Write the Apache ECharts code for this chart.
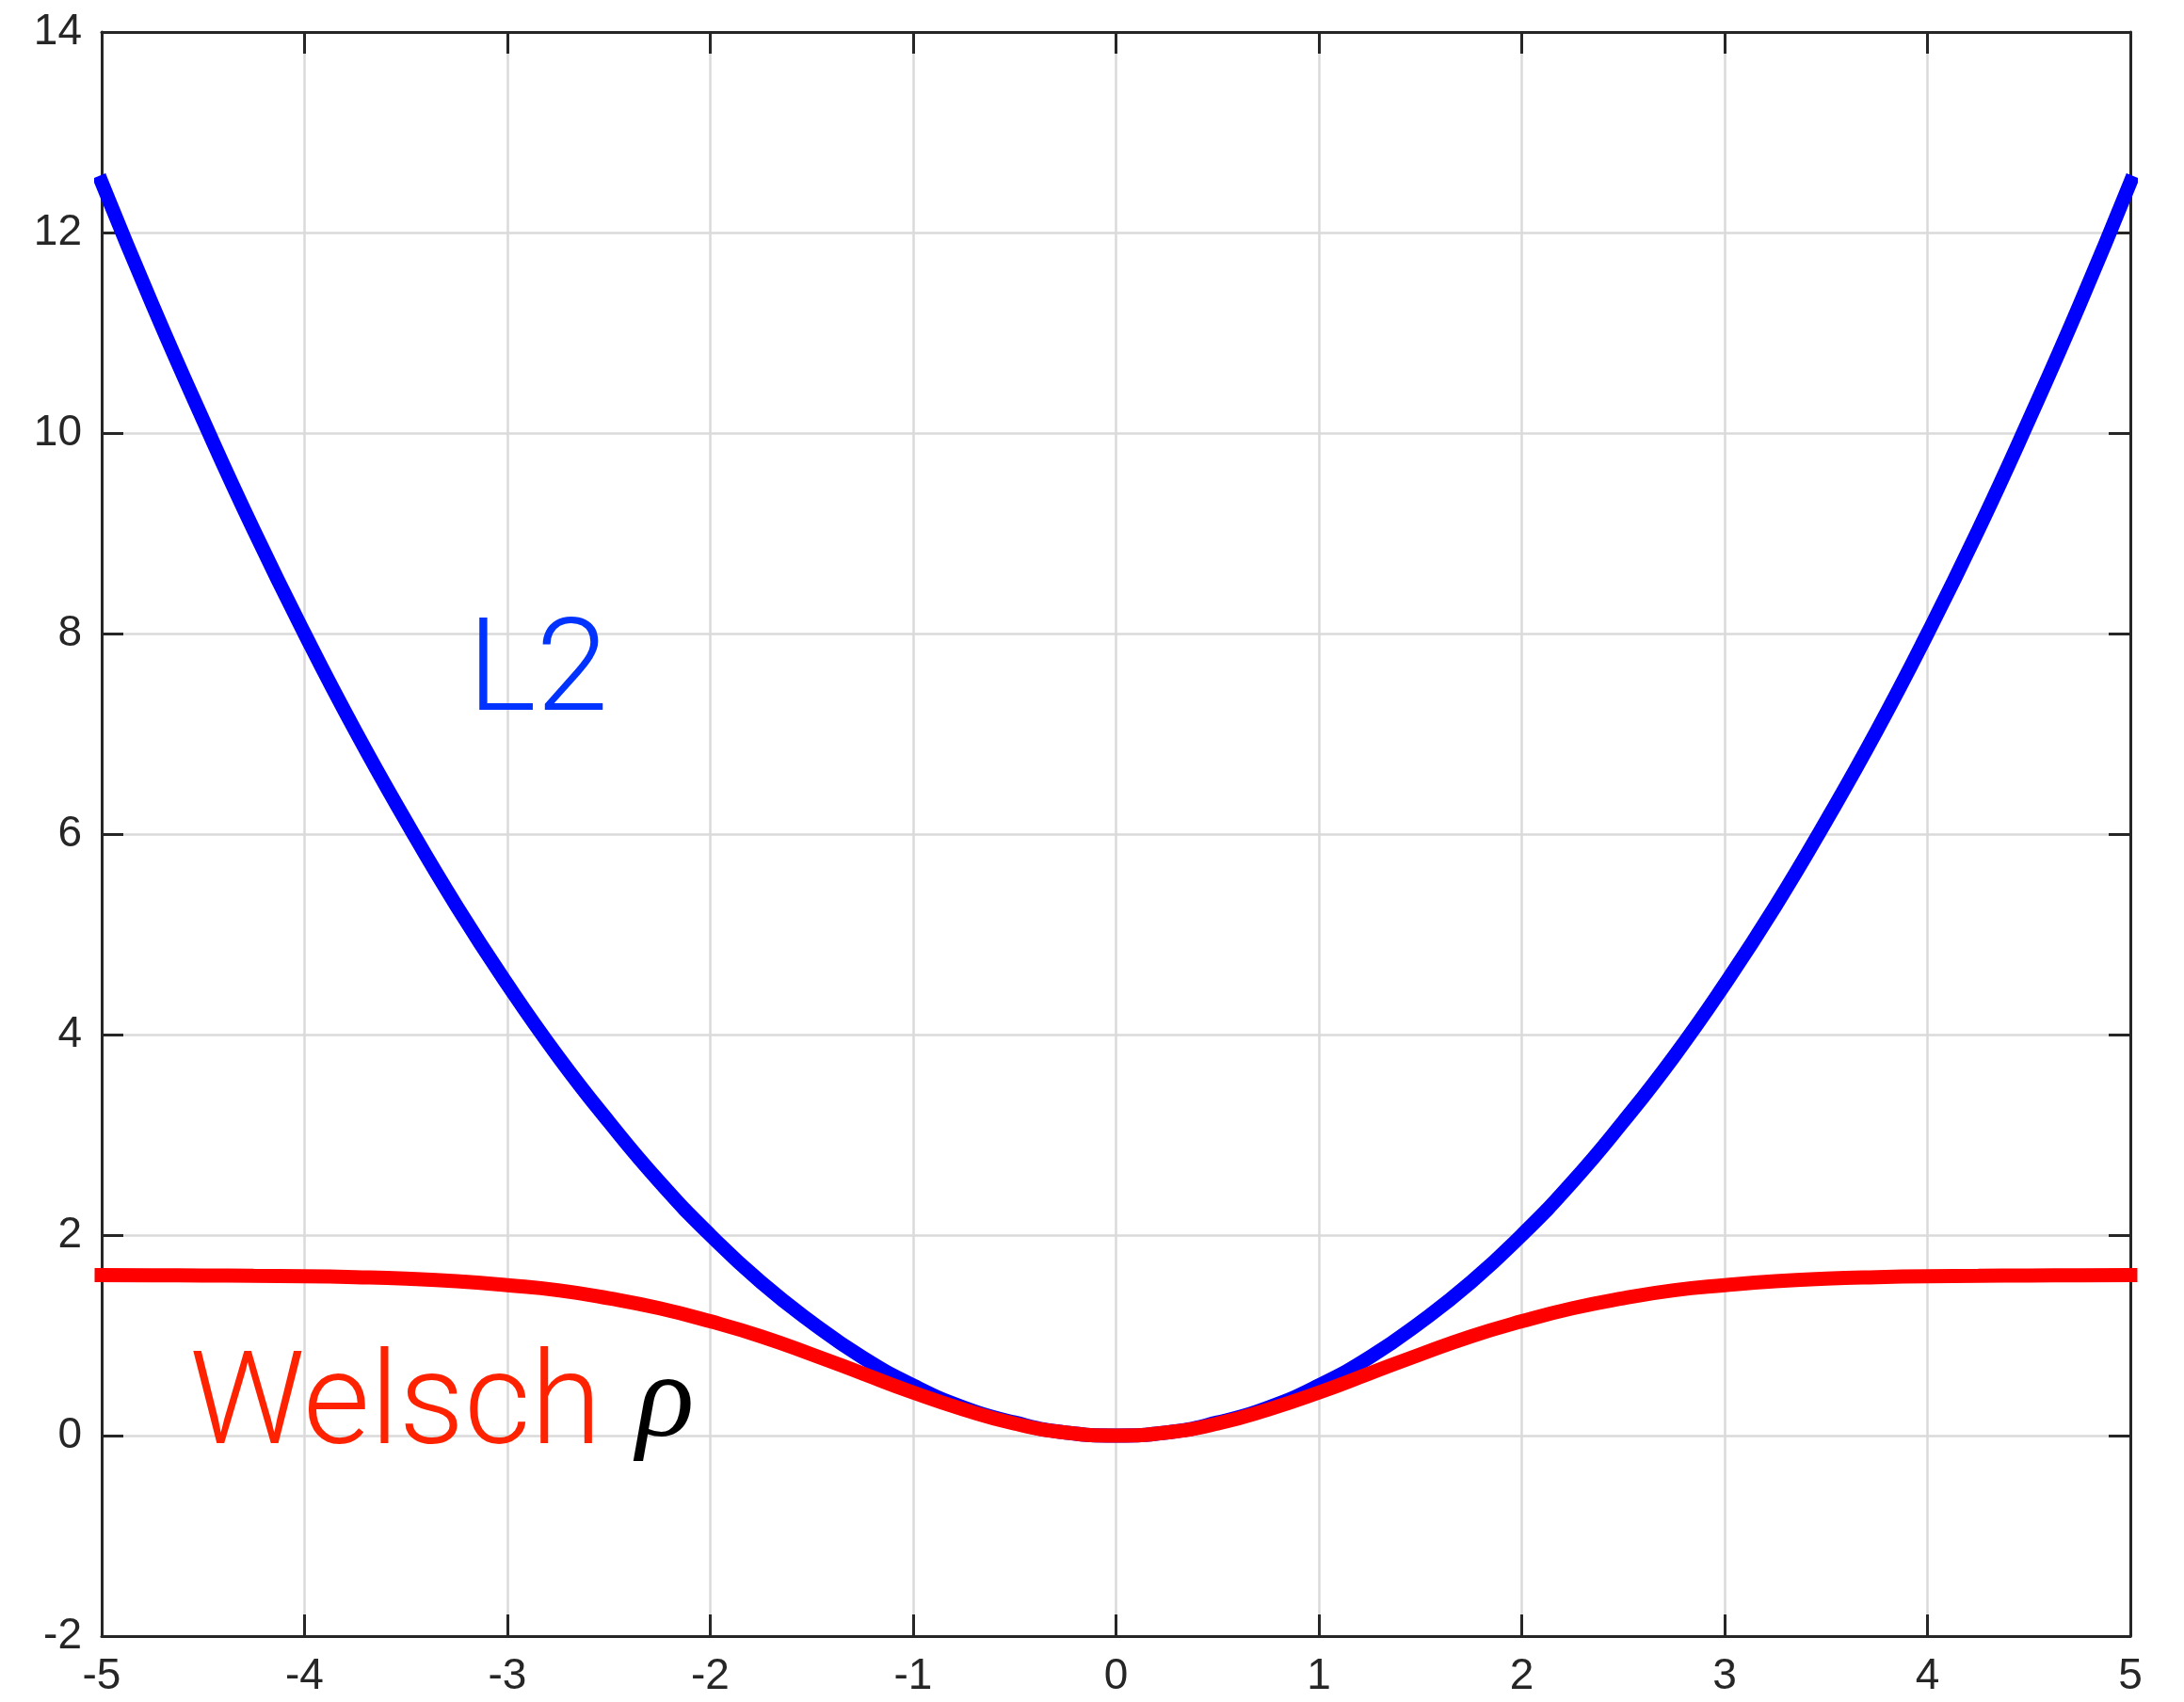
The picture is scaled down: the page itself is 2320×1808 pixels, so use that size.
<!DOCTYPE html>
<html>
<head>
<meta charset="utf-8">
<script src="https://cdn.jsdelivr.net/npm/echarts@6/dist/echarts.min.js"></script>
<style>
html,body{margin:0;padding:0;background:#fff;}
#c{width:2320px;height:1808px;}
</style>
</head>
<body>
<div id="c"></div>
<script>
// x positions of sampled points
const xVals = [-5,-4.75,-4.5,-4.25,-4,-3.75,-3.5,-3.25,-3,-2.75,-2.5,-2.25,-2,-1.75,-1.5,-1.25,-1,-0.75,-0.5,-0.25,0,
  0.25,0.5,0.75,1,1.25,1.5,1.75,2,2.25,2.5,2.75,3,3.25,3.5,3.75,4,4.25,4.5,4.75,5];
// L2 loss values
const l2Vals = [12.5,11.28,10.13,9.03,8.0,7.03,6.13,5.28,4.5,3.78,3.13,2.53,2.0,1.53,1.13,0.78,0.5,0.28,0.13,0.03,0,
  0.03,0.13,0.28,0.5,0.78,1.13,1.53,2.0,2.53,3.13,3.78,4.5,5.28,6.13,7.03,8.0,9.03,10.13,11.28,12.5];
// Welsch rho values
const welschVals = [1.60,1.599,1.597,1.594,1.59,1.58,1.565,1.54,1.50,1.45,1.37,1.27,1.14,0.99,0.81,0.62,0.43,0.26,0.12,0.03,0,
  0.03,0.12,0.26,0.43,0.62,0.81,0.99,1.14,1.27,1.37,1.45,1.50,1.54,1.565,1.58,1.59,1.594,1.597,1.599,1.60];
// axis settings
const xMin = -5, xMax = 5, xStep = 1;
const yMin = -2, yMax = 14, yStep = 2;
// annotation labels
const labelL2 = 'L2';
const labelWelsch = 'Welsch';
const labelRho = 'ρ';

const axisColor = '#262626';
const gridColor = '#dadada';
const chart = echarts.init(document.getElementById('c'), null, {renderer: 'canvas'});

const baseX = {
  type: 'value', min: xMin, max: xMax, interval: xStep,
  axisLine: {show: true, onZero: false, lineStyle: {color: axisColor, width: 3}},
  axisTick: {show: true, inside: true, length: 23, lineStyle: {color: axisColor, width: 3}},
  splitLine: {show: false}
};
const baseY = {
  type: 'value', min: yMin, max: yMax, interval: yStep,
  axisLine: {show: true, onZero: false, lineStyle: {color: axisColor, width: 3}},
  axisTick: {show: true, inside: true, length: 23, lineStyle: {color: axisColor, width: 3}},
  splitLine: {show: false}
};

chart.setOption({
  backgroundColor: '#ffffff',
  animation: false,
  grid: {left: 108, right: 57, top: 34, bottom: 70, containLabel: false},
  xAxis: [
    Object.assign({}, baseX, {
      position: 'bottom',
      splitLine: {show: true, lineStyle: {color: gridColor, width: 2.5}},
      axisLabel: {show: true, color: axisColor, fontSize: 46, fontFamily: 'Liberation Sans', margin: 20}
    }),
    Object.assign({}, baseX, {position: 'top', axisLabel: {show: false}})
  ],
  yAxis: [
    Object.assign({}, baseY, {
      position: 'left',
      splitLine: {show: true, lineStyle: {color: gridColor, width: 2.5}},
      axisLabel: {show: true, color: axisColor, fontSize: 46, fontFamily: 'Liberation Sans', margin: 21}
    }),
    Object.assign({}, baseY, {position: 'right', axisLabel: {show: false}})
  ],
  series: [
    {
      name: 'L2', type: 'line', xAxisIndex: 0, yAxisIndex: 0,
      data: xVals.map((x, i) => [x, l2Vals[i]]),
      smooth: true, showSymbol: false, clip: false,
      lineStyle: {color: '#0000ff', width: 15, cap: 'square'}, z: 3
    },
    {
      name: 'Welsch', type: 'line', xAxisIndex: 0, yAxisIndex: 0,
      data: xVals.map((x, i) => [x, welschVals[i]]),
      smooth: true, showSymbol: false, clip: false,
      lineStyle: {color: '#ff0000', width: 15, cap: 'square'}, z: 4
    }
  ]
});

const pL2 = chart.convertToPixel({xAxisIndex: 0, yAxisIndex: 0}, [-3.196, 7.56]);
const pW = chart.convertToPixel({xAxisIndex: 0, yAxisIndex: 0}, [-4.567, 0.25]);
const pR = chart.convertToPixel({xAxisIndex: 0, yAxisIndex: 0}, [-2.364, 0.32]);

chart.setOption({
  graphic: [
    {type: 'text', x: pL2[0], y: pL2[1], z: 10,
      style: {text: labelL2, fill: '#0033ff', font: '300 138px Roboto', align: 'left', verticalAlign: 'middle'}},
    {type: 'text', x: pW[0], y: pW[1], z: 10,
      style: {text: labelWelsch, fill: '#ff2200', font: '300 137px Roboto', align: 'left', verticalAlign: 'middle'}},
    {type: 'text', x: pR[0], y: pR[1], z: 10,
      style: {text: labelRho, fill: '#000000', font: 'italic 128px "Liberation Serif"', align: 'left', verticalAlign: 'middle'}}
  ]
});
</script>
</body>
</html>
